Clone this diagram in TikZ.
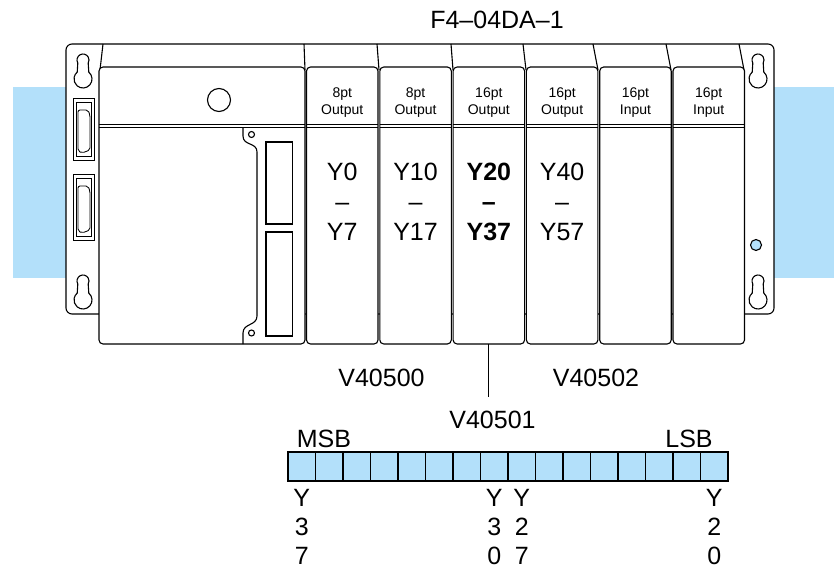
\documentclass[tikz,border=0pt]{standalone}
\usepackage{fontspec}
\setmainfont{Liberation Sans}
\usetikzlibrary{calc}
\definecolor{railblue}{RGB}{179,224,250}

\begin{document}
\begin{tikzpicture}[x=1pt,y=-1pt,line width=1.1pt,
    module/.style={draw,fill=white,rounded corners=4pt,inner sep=0pt,outer sep=0pt,
        minimum width=71.5pt,minimum height=277pt},
    thin/.style={line width=0.85pt},
    small/.style={font=\fontsize{14}{17}\selectfont,inner sep=0pt,anchor=north,align=center},
    big/.style={font=\fontsize{25}{30}\selectfont,inner sep=0pt,anchor=north,align=center},
    bit/.style={font=\fontsize{25}{29}\selectfont,inner sep=0pt,anchor=north,align=center}]
    \useasboundingbox (0,0) rectangle (834,569);
    % rails and base
    \fill[railblue] (13,87) rectangle (66,278);
    \fill[railblue] (774,87) rectangle (834,278);
    \draw[fill=white,rounded corners=6pt] (66,44) rectangle (774,314);
    \foreach \a/\b in {103/100,304/305,377/379,451/453,523/526,593/598,666/671,739/744}
        \draw (\a,44) -- (\b,70);
    \foreach \x/\y in {83/54,83/275,758/54,758/275}
        \draw ($(\x,\y+25)+(-50:9)$) arc[start angle=-50,end angle=230,radius=9]
            -- ($(\x,\y+6)+(150:6)$) arc[start angle=150,end angle=390,radius=6] -- cycle;
    \foreach \t/\b in {98/160,174/240} {
        \draw[thin] (73,\t) rectangle (94,\b);
        \draw[thin] (76,\t+4) rectangle (91,\b-4);
        \draw[thin,rounded corners=2pt] (78,\t+12) -- (88,\t+12) -- (90,\t+17)
            -- (90,\b-10) -- (82,\b-7) -- (78,\b-9) -- cycle;
    }
    \fill[railblue,draw=black] (756,245) circle (5.5);
    % cpu and modules
    \node[module,minimum width=206pt] (cpu) at (202,205.5) {};
    \foreach \n in {1,...,6}
        \node[module] (m\n) at ({342.25+73.3*(\n-1)},205.5) {};
    \foreach \n in {cpu,m1,m2,m3,m4,m5,m6} {
        \draw[thin] ($(\n.north west)+(0,57)$) -- ($(\n.north east)+(0,57)$);
        \draw[thin] ($(\n.north west)+(0,60.5)$) -- ($(\n.north east)+(0,60.5)$);
    }
    \draw (219,100) circle (11.5);
    \draw (243,127.5) -- (243,136) .. controls (243,146) and (257,142) .. (257,152)
        -- (257,316) .. controls (257,326) and (243,323) .. (243,333) -- (243,344);
    \draw (251.5,134.5) circle (3);
    \draw (251.5,333) circle (3);
    \draw (266,142) rectangle (292.5,224);
    \draw (266,232) rectangle (292.5,336);
    % module labels
    \node[small] (h1) at (m1 |- 0,87) {8pt\\Output};
    \node[small] (h2) at (m2 |- 0,87) {8pt\\Output};
    \node[small] (h3) at (m3 |- 0,87) {16pt\\Output};
    \node[small] (h4) at (m4 |- 0,87) {16pt\\Output};
    \node[small] (h5) at (m5 |- 0,87) {16pt\\Input};
    \node[small] (h6) at (m6 |- 0,87) {16pt\\Input};
    \node[big] (r1) at (m1 |- 0,162) {Y0\\--\\Y7};
    \node[big] (r2) at (m2 |- 0,162) {Y10\\--\\Y17};
    \node[big,font=\fontsize{25}{30}\selectfont\bfseries] (r3) at (m3 |- 0,162) {Y20\\--\\Y37};
    \node[big] (r4) at (m4 |- 0,162) {Y40\\--\\Y57};
    \node[big] (title) at (497,10) {F4--04DA--1};
    % v-memory
    \node[big] (v0) at (381.5,368) {V40500};
    \node[big] (v2) at (596,368) {V40502};
    \node[big] (v1) at (492.5,410) {V40501};
    \draw[shorten >=13pt] (m3.south) -- (m3.south |- v1.north);
    \node[big] (msb) at (324,429) {MSB};
    \node[big] (lsb) at (689,429) {LSB};
    \foreach \i in {0,...,15}
        \draw[fill=railblue] ({288+27.5*\i},452) rectangle ++(27.5,29);
    \node[bit] (y37) at (301.75,489) {Y\\3\\7};
    \node[bit] (y30) at (494.25,489) {Y\\3\\0};
    \node[bit] (y27) at (521.75,489) {Y\\2\\7};
    \node[bit] (y20) at (714.25,489) {Y\\2\\0};
\end{tikzpicture}
\end{document}
